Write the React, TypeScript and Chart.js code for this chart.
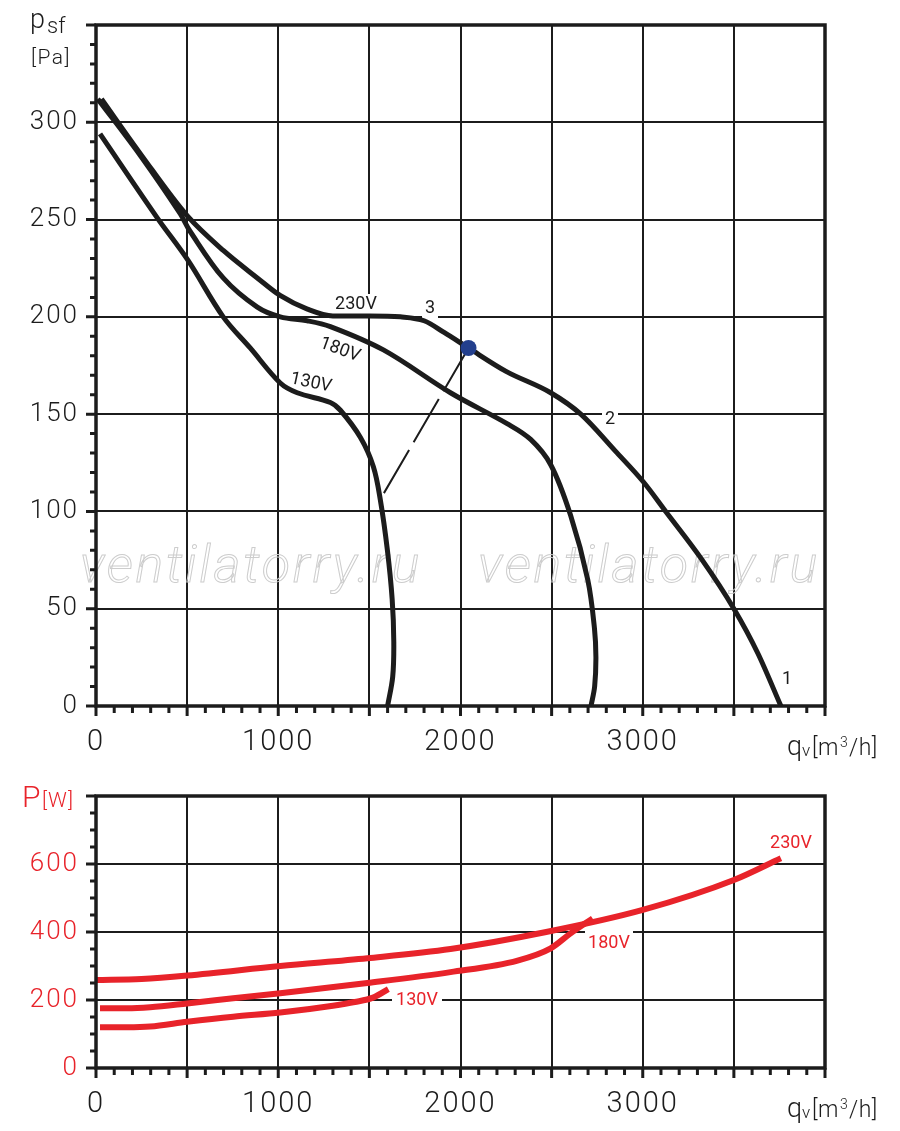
import React, { useEffect, useRef } from 'react';
import { Chart, registerables } from 'chart.js';

Chart.register(...registerables);

const FONT = 'Roboto, "Noto Sans", "DejaVu Sans", sans-serif';
const INK = '#1c1c1c';
const RED = '#e8232a';
const BLUE = '#233f8d';

// ---------- shared flow axis ----------
const flowMax = 4000;
const flowLabels = [0, 1000, 2000, 3000];

// ---------- pressure chart ----------
const pressureMax = 350;
const pressureLabels = [0, 50, 100, 150, 200, 250, 300];

const flow230 = [30, 250, 500, 700, 885, 1010, 1160, 1300, 1500, 1670, 1800, 1910, 2044, 2250, 2495, 2660, 2850, 3005, 3126, 3319, 3500, 3632, 3758];
const pres230 = [312, 283, 252, 234, 220, 211, 204, 200.5, 200.5, 200, 198, 192, 184, 172, 161, 150, 131, 115, 100, 76, 50, 27, 0];

const flow180 = [10, 250, 462, 516, 698, 885, 1011, 1159, 1286, 1577, 1945, 2258, 2385, 2495, 2604, 2698, 2735, 2743, 2736, 2716];
const pres180 = [312, 282, 253, 244, 220, 205, 200, 198, 195, 183, 161, 145, 137, 124, 98, 65, 40, 25, 10, 0];

const flow130 = [22, 335, 505, 698, 846, 1011, 1104, 1286, 1341, 1451, 1522, 1560, 1599, 1625, 1634, 1628, 1600];
const pres130 = [294, 251, 229, 200, 184, 166, 161, 156, 152, 138, 123, 106, 80, 55, 33, 15, 0];

const workFlow = [2044];
const workPres = [184];
const systemFlow = [2044, 1571];
const systemPres = [184, 108];

// ---------- power chart ----------
const powerMax = 800;
const powerLabels = [0, 200, 400, 600];

const pFlow230 = [0, 250, 500, 1011, 1489, 1945, 2470, 3000, 3500, 3758];
const power230 = [259, 262, 272, 300, 323, 350, 400, 465, 553, 617];

const pFlow180 = [22, 170, 297, 500, 753, 1011, 1489, 1945, 2313, 2495, 2604, 2725];
const power180 = [176, 176, 179, 190, 205, 220, 250, 282, 316, 352, 396, 440];

const pFlow130 = [22, 170, 297, 500, 753, 1011, 1300, 1420, 1520, 1604];
const power130 = [120, 120, 122, 136, 151, 163, 183, 194, 207, 232];

const pts = (xs: number[], ys: number[]) => xs.map((x, i) => ({ x, y: ys[i] }));

const curve = (xs: number[], ys: number[], color: string, width: number, monotone = false) => ({
  data: pts(xs, ys),
  showLine: true,
  borderColor: color,
  borderWidth: width,
  pointRadius: 0,
  tension: 0.35,
  cubicInterpolationMode: monotone ? 'monotone' : 'default',
  fill: false,
});

function drawLabel(
  ctx: CanvasRenderingContext2D,
  text: string,
  x: number,
  y: number,
  color: string,
  size: number,
  rot = 0,
  box: [number, number] | null = null,
) {
  ctx.save();
  ctx.translate(x, y);
  ctx.rotate((rot * Math.PI) / 180);
  if (box) {
    ctx.fillStyle = '#ffffff';
    ctx.fillRect(-box[0] / 2, -box[1] / 2, box[0], box[1]);
  }
  (ctx as any).letterSpacing = '0px';
  ctx.fillStyle = color;
  ctx.font = `400 ${size}px ${FONT}`;
  ctx.textAlign = 'center';
  ctx.textBaseline = 'middle';
  ctx.fillText(text, 0, 0);
  ctx.restore();
}

function drawText(ctx: CanvasRenderingContext2D, text: string, x: number, y: number, size: number, color: string, spacing = 0) {
  (ctx as any).letterSpacing = `${spacing}px`;
  ctx.font = `300 ${size}px ${FONT}`;
  ctx.fillStyle = color;
  ctx.textAlign = 'left';
  ctx.textBaseline = 'alphabetic';
  ctx.fillText(text, x, y);
}

function drawFlowTitle(ctx: CanvasRenderingContext2D, base: number) {
  drawText(ctx, 'q', 787, base, 27, INK);
  drawText(ctx, 'v', 802, base + 1, 17, INK);
  drawText(ctx, '[m', 812, base, 23, INK, 0.5);
  drawText(ctx, '3', 840, base - 8, 14, INK);
  drawText(ctx, '/h]', 849, base, 23, INK, 0.5);
}

const spacingPlugin = {
  id: 'spacingPlugin',
  beforeDraw(chart: any) {
    chart.ctx.letterSpacing = '2px';
  },
  beforeDatasetsDraw(chart: any) {
    chart.ctx.letterSpacing = '0px';
  },
};

const frameTicks = (majorX: number, majorY: number) => ({
  id: 'frameTicks',
  afterDatasetsDraw(chart: any) {
    const { ctx, chartArea: a, scales } = chart;
    ctx.save();
    ctx.strokeStyle = INK;
    ctx.lineWidth = 3;
    ctx.lineCap = 'butt';
    ctx.beginPath();
    scales.x.ticks.forEach((t: any) => {
      const px = scales.x.getPixelForValue(t.value);
      const len = t.value % majorX === 0 ? 10 : 7;
      ctx.moveTo(px, a.bottom);
      ctx.lineTo(px, a.bottom + len);
    });
    scales.y.ticks.forEach((t: any) => {
      const py = scales.y.getPixelForValue(t.value);
      const len = t.value % majorY === 0 ? 10 : 6;
      ctx.moveTo(a.left - len, py);
      ctx.lineTo(a.left, py);
    });
    ctx.stroke();
    ctx.lineWidth = 3.5;
    ctx.strokeRect(a.left, a.top, a.right - a.left, a.bottom - a.top);
    ctx.restore();
  },
});

function makeOptions(cfg: {
  top: number;
  xHeight: number;
  yMax: number;
  yStep: number;
  yGrid: number;
  yLabels: number[];
  yColor: string;
}) {
  return {
    animation: false as const,
    responsive: false,
    devicePixelRatio: 1,
    events: [] as any[],
    layout: { padding: { left: 0, top: cfg.top, right: 75, bottom: 0 } },
    plugins: { legend: { display: false }, tooltip: { enabled: false }, title: { display: false } },
    scales: {
      x: {
        type: 'linear' as const,
        min: 0,
        max: flowMax,
        afterFit: (s: any) => {
          s.height = cfg.xHeight;
          s.paddingLeft = 0;
          s.paddingRight = 0;
        },
        border: { display: false },
        grid: {
          drawTicks: false,
          lineWidth: 2,
          color: (c: any) => (c.tick && c.tick.value % 500 === 0 ? INK : 'rgba(0,0,0,0)'),
        },
        ticks: {
          stepSize: 100,
          autoSkip: false,
          maxRotation: 0,
          minRotation: 0,
          padding: 19,
          color: INK,
          font: { family: FONT, size: 29, weight: 300 as any },
          callback: (v: any) => (flowLabels.includes(Number(v)) ? String(v) : ''),
        },
      },
      y: {
        type: 'linear' as const,
        min: 0,
        max: cfg.yMax,
        afterFit: (s: any) => {
          s.width = 96;
          s.paddingTop = 0;
          s.paddingBottom = 0;
        },
        border: { display: false },
        grid: {
          drawTicks: false,
          lineWidth: 2,
          color: (c: any) => (c.tick && c.tick.value % cfg.yGrid === 0 ? INK : 'rgba(0,0,0,0)'),
        },
        ticks: {
          stepSize: cfg.yStep,
          autoSkip: false,
          padding: 17,
          color: cfg.yColor,
          font: { family: FONT, size: 26, weight: 300 as any },
          callback: (v: any) => (cfg.yLabels.includes(Number(v)) ? String(v) : ''),
        },
      },
    },
  };
}

function drawWatermark(ctx: CanvasRenderingContext2D, x: number, y: number) {
  ctx.save();
  ctx.font = `italic 300 52px ${FONT}`;
  (ctx as any).letterSpacing = '0px';
  const text = 'ventilatorry.ru';
  const w = ctx.measureText(text).width;
  const sp = (342 - w) / text.length;
  (ctx as any).letterSpacing = `${sp}px`;
  ctx.strokeStyle = '#cdcdcd';
  ctx.lineWidth = 1;
  ctx.textAlign = 'left';
  ctx.textBaseline = 'alphabetic';
  ctx.strokeText(text, x, y);
  ctx.restore();
}

const topDecor = {
  id: 'topDecor',
  beforeDatasetsDraw(chart: any) {
    const ctx = chart.ctx as CanvasRenderingContext2D;
    drawWatermark(ctx, 80, 582);
    drawWatermark(ctx, 478, 582);
    drawLabel(ctx, '230V', 356, 304, INK, 18, 0, [44, 20]);
    drawLabel(ctx, '3', 430, 308, INK, 18, 0, [16, 20]);
    drawLabel(ctx, '180V', 340, 350, INK, 18, 20);
    drawLabel(ctx, '130V', 311, 383, INK, 18, 12);
    drawLabel(ctx, '2', 610, 419, INK, 18, 0, [16, 20]);
    drawLabel(ctx, '1', 787, 679, INK, 18);
  },
  afterDraw(chart: any) {
    const ctx = chart.ctx as CanvasRenderingContext2D;
    ctx.save();
    drawText(ctx, 'p', 30, 28, 27, INK);
    drawText(ctx, 'sf', 47, 33, 22, INK);
    drawText(ctx, '[Pa]', 31, 64, 21, INK, 1.5);
    drawFlowTitle(ctx, 755);
    ctx.restore();
  },
};

const bottomDecor = {
  id: 'bottomDecor',
  beforeDatasetsDraw(chart: any) {
    const ctx = chart.ctx as CanvasRenderingContext2D;
    drawLabel(ctx, '230V', 791, 73.5, RED, 18);
    drawLabel(ctx, '180V', 609, 173.5, RED, 18, 0, [48, 30]);
    drawLabel(ctx, '130V', 417, 230, RED, 18, 0, [50, 22]);
  },
  afterDraw(chart: any) {
    const ctx = chart.ctx as CanvasRenderingContext2D;
    ctx.save();
    drawText(ctx, 'P', 22, 37, 30, RED);
    drawText(ctx, '[W]', 42, 37, 21, RED, 1);
    drawFlowTitle(ctx, 347);
    ctx.restore();
  },
};

export default function App() {
  const topRef = useRef<HTMLCanvasElement>(null);
  const botRef = useRef<HTMLCanvasElement>(null);

  useEffect(() => {
    const top = new Chart(topRef.current as HTMLCanvasElement, {
      type: 'scatter',
      data: {
        datasets: [
          {
            data: pts(workFlow, workPres),
            pointRadius: 8,
            pointBackgroundColor: BLUE,
            pointBorderWidth: 0,
            showLine: false,
          } as any,
          {
            data: pts(systemFlow, systemPres),
            showLine: true,
            borderColor: INK,
            borderWidth: 2,
            borderDash: [50, 9],
            pointRadius: 0,
            tension: 0,
          } as any,
          curve(flow230, pres230, INK, 5, true),
          curve(flow180, pres180, INK, 5),
          curve(flow130, pres130, INK, 5),
        ] as any,
      },
      options: makeOptions({
        top: 25,
        xHeight: 64,
        yMax: pressureMax,
        yStep: 10,
        yGrid: 50,
        yLabels: pressureLabels,
        yColor: INK,
      }) as any,
      plugins: [spacingPlugin, frameTicks(500, 50), topDecor] as any,
    });

    const bottom = new Chart(botRef.current as HTMLCanvasElement, {
      type: 'scatter',
      data: {
        datasets: [
          curve(pFlow230, power230, RED, 6, true),
          curve(pFlow180, power180, RED, 6, true),
          curve(pFlow130, power130, RED, 6, true),
        ] as any,
      },
      options: makeOptions({
        top: 26,
        xHeight: 63,
        yMax: powerMax,
        yStep: 50,
        yGrid: 200,
        yLabels: powerLabels,
        yColor: RED,
      }) as any,
      plugins: [spacingPlugin, frameTicks(500, 200), bottomDecor] as any,
    });

    return () => {
      top.destroy();
      bottom.destroy();
    };
  }, []);

  return (
    <div style={{ position: 'absolute', left: 0, top: 0, width: 900, height: 1131, background: '#ffffff' }}>
      <canvas ref={topRef} width={900} height={770} style={{ position: 'absolute', left: 0, top: 0, width: 900, height: 770 }} />
      <canvas ref={botRef} width={900} height={361} style={{ position: 'absolute', left: 0, top: 770, width: 900, height: 361 }} />
    </div>
  );
}
